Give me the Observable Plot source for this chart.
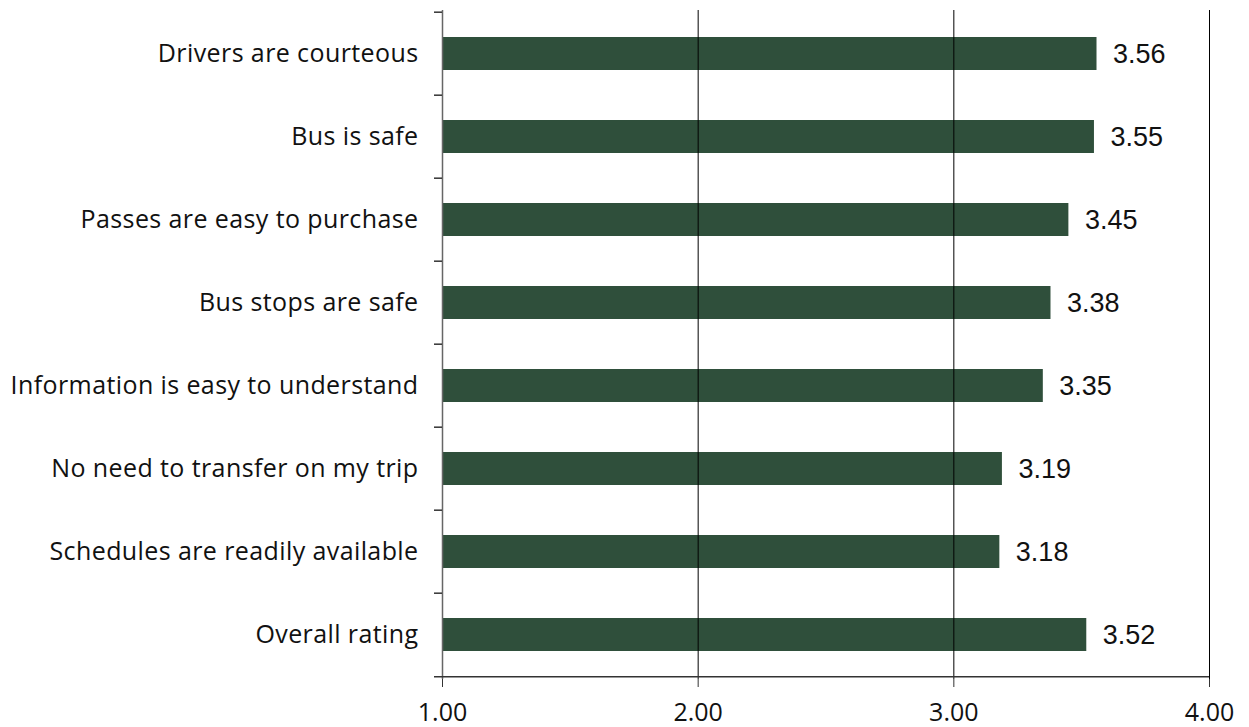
<!DOCTYPE html>
<html>
<head>
<meta charset="utf-8">
<script src="https://cdn.jsdelivr.net/npm/d3@7"></script>
<script src="https://cdn.jsdelivr.net/npm/@observablehq/plot@0.6"></script>
<style>
  body { margin: 0; background: #fff; }
  #chart svg { display: block; }
  #chart g[aria-label="y-axis tick label"] text { letter-spacing: 0.4px; }
</style>
</head>
<body>
<div id="chart"></div>
<script>
const categories = [
  "Drivers are courteous",
  "Bus is safe",
  "Passes are easy to purchase",
  "Bus stops are safe",
  "Information is easy to understand",
  "No need to transfer on my trip",
  "Schedules are readily available",
  "Overall rating"
];
const values = [3.56, 3.55, 3.45, 3.38, 3.35, 3.19, 3.18, 3.52];
const xTicks = [1, 2, 3, 4];

const data = categories.map((c, i) => ({category: c, value: values[i]}));

const W = 1249, H = 727;
const mLeft = 442, mRight = 40, mTop = 10, mBottom = 48;
const step = (H - mTop - mBottom) / categories.length;
const xPerPx = (xTicks[xTicks.length - 1] - xTicks[0]) / (W - mLeft - mRight);
const tickLen = 8 * xPerPx;
const barColor = "#2f4f3b";
const labelFont = "'Open Sans', sans-serif";

const chart = Plot.plot({
  width: W,
  height: H,
  marginLeft: mLeft,
  marginRight: mRight,
  marginTop: mTop,
  marginBottom: mBottom,
  style: {background: "#fff", color: "#000"},
  x: {domain: [1, 4]},
  y: {domain: categories, paddingInner: 0.6, paddingOuter: 0.3, label: null},
  marks: [
    Plot.barX(data, {y: "category", x1: 1, x2: "value", fill: barColor}),
    Plot.ruleX(xTicks.slice(1), {stroke: "#000", strokeWidth: 1}),
    Plot.ruleX([1], {stroke: "#666", strokeWidth: 1.5}),
    Plot.ruleY(categories, {y: d => d, dy: -step / 2, x1: 1 - tickLen, x2: 1, stroke: "#333", strokeWidth: 1.5}),
    Plot.ruleY([categories[categories.length - 1]], {y: d => d, dy: step / 2, x1: 1 - tickLen, x2: 4, stroke: "#333", strokeWidth: 1.5}),
    Plot.text(data, {y: "category", x: "value", text: d => d.value.toFixed(2), dx: 16, textAnchor: "start", fontSize: 27, fontFamily: "'Liberation Sans', Arial, sans-serif", fill: "#111"}),
    Plot.axisY({tickSize: 0, tickPadding: 24, fontSize: 25, fontFamily: labelFont, fill: "#111", label: null}),
    Plot.axisX({ticks: xTicks, tickFormat: d => d.toFixed(2), tickSize: 8, tickPadding: 16, fontSize: 25, fontFamily: labelFont, fill: "#111", stroke: "#333", label: null})
  ]
});

document.getElementById("chart").appendChild(chart);
</script>
</body>
</html>
